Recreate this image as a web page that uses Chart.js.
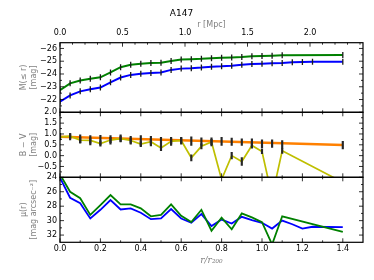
<!DOCTYPE html>
<html>
<head>
<meta charset="utf-8">
<script src="https://cdn.jsdelivr.net/npm/chart.js@4"></script>
<style>
  body { margin: 0; background: #fff; }
  #wrap { position: relative; width: 374px; height: 280px; }
  #wrap canvas { position: absolute; left: 0; top: 0; }
</style>
</head>
<body>
<div id="wrap">
  <canvas id="panel-mag" width="374" height="280"></canvas>
  <canvas id="panel-colour" width="374" height="280"></canvas>
  <canvas id="panel-mu" width="374" height="280"></canvas>
</div>
<script>
// radii in units of r200
const rGreen = [0, 0.05, 0.1, 0.15, 0.2, 0.25, 0.3, 0.35, 0.4, 0.45, 0.5, 0.55, 0.6, 0.65, 0.7, 0.75, 0.8, 0.85, 0.9, 0.95, 1.0, 1.05, 1.1, 1.4];
const rBlue = [0, 0.05, 0.1, 0.15, 0.2, 0.25, 0.3, 0.35, 0.4, 0.45, 0.5, 0.55, 0.6, 0.65, 0.7, 0.75, 0.8, 0.85, 0.9, 0.95, 1.0, 1.05, 1.1, 1.15, 1.2, 1.25, 1.4];
const rFit = [0, 1.4];

// M(<= r)
const magGreen = [-22.73, -23.27, -23.49, -23.62, -23.74, -24.12, -24.53, -24.73, -24.81, -24.86, -24.88, -25.02, -25.13, -25.16, -25.19, -25.24, -25.27, -25.30, -25.33, -25.38, -25.40, -25.43, -25.46, -25.48];
const magBlue = [-21.84, -22.32, -22.64, -22.81, -22.94, -23.35, -23.72, -23.93, -24.01, -24.07, -24.12, -24.32, -24.42, -24.45, -24.50, -24.57, -24.60, -24.65, -24.73, -24.78, -24.81, -24.84, -24.86, -24.91, -24.94, -24.96, -24.96];

// B - V
const bvData = [0.86, 0.90, 0.72, 0.70, 0.56, 0.72, 0.78, 0.70, 0.53, 0.64, 0.35, 0.66, 0.70, -0.10, 0.43, 0.63, -1.1, 0.0, -0.27, 0.47, 0.19, -1.9, 0.22, -1.23];
const bvErr = [0.12, 0.12, 0.12, 0.12, 0.12, 0.12, 0.12, 0.12, 0.12, 0.12, 0.12, 0.12, 0.12, 0.14, 0.12, 0.12, 0.12, 0.15, 0.18, 0.12, 0.10, 0.12, 0.12, 0.12];
const bvFit = [0.87, 0.49];
const bvSeqHi = [1.03, 1.02, 0.96, 0.92, 0.94, 0.92, 0.96, 0.89, 0.92, 0.89, 0.84, 0.84, 0.84, 0.87, 0.82, 0.82, 0.84, 0.81, 0.78, 0.78, 0.73, 0.73, 0.69, 0.66];
const bvSeqLo = [0.72, 0.73, 0.58, 0.50, 0.50, 0.53, 0.63, 0.53, 0.45, 0.45, 0.45, 0.47, 0.53, 0.47, 0.47, 0.45, 0.47, 0.47, 0.47, 0.40, 0.35, 0.38, 0.35, 0.31];

// mu(r)
const muGreen = [23.6, 26.0, 26.9, 29.2, 27.85, 26.46, 27.75, 27.75, 28.3, 29.4, 29.2, 27.75, 29.33, 30.2, 28.5, 31.4, 29.6, 31.2, 29.0, 29.55, 30.2, 33.3, 29.4, 31.55];
const muBlue = [24.05, 26.83, 27.6, 29.7, 28.5, 27.15, 28.45, 28.3, 28.9, 29.8, 29.7, 28.4, 29.7, 30.3, 29.1, 30.76, 29.85, 30.4, 29.47, 29.93, 30.3, 31.1, 30.0, 30.5, 31.1, 30.85, 30.9];

// ticks
const xTicks = [0, 0.2, 0.4, 0.6, 0.8, 1.0, 1.2, 1.4];
const xMinor = [0.1, 0.3, 0.5, 0.7, 0.9, 1.1, 1.3];
const mpcTicks = [0, 0.5, 1.0, 1.5, 2.0];
const mpcMinor = [0.1, 0.2, 0.3, 0.4, 0.6, 0.7, 0.8, 0.9, 1.1, 1.2, 1.3, 1.4, 1.6, 1.7, 1.8, 1.9, 2.1, 2.2, 2.3, 2.4];
const magTicks = [-26, -25, -24, -23, -22];
const magMinor = [-25.5, -24.5, -23.5, -22.5, -21.5];
const bvTicks = [2.0, 1.5, 1.0, 0.5, 0.0, -0.5];
const bvMinor = [1.75, 1.25, 0.75, 0.25, -0.25, -0.75];
const muTicks = [24, 26, 28, 30, 32];
const muMinor = [25, 27, 29, 31];

Chart.defaults.font.family = 'DejaVu Sans';
Chart.defaults.font.size = 8;
Chart.defaults.color = '#000';

const GREEN = '#008000', BLUE = '#0000ff', YELLOW = '#bfbf00', ORANGE = '#ff8000', GREY = '#808080';

const pts = (xs, ys) => xs.map((x, i) => ({x: x, y: ys[i]}));
const num = (v, d) => (v < 0 ? '\u2212' : '') + Math.abs(v).toFixed(d);

// inward ticks + frame round each panel
const frameTicks = {
    id: 'frameTicks',
    afterDatasetsDraw(chart, args, opts) {
        const ctx = chart.ctx, a = chart.chartArea;
        const edge = (spec, horiz, pos, dir) => {
            const s = chart.scales[spec.scale];
            [[spec.major, 4], [spec.minor, 2]].forEach(([vals, len]) => {
                vals.forEach(v => {
                    const p = s.getPixelForValue(v);
                    ctx.beginPath();
                    if (horiz) { ctx.moveTo(p, pos); ctx.lineTo(p, pos + dir * len); }
                    else { ctx.moveTo(pos, p); ctx.lineTo(pos + dir * len, p); }
                    ctx.stroke();
                });
            });
        };
        ctx.save();
        ctx.strokeStyle = '#000';
        ctx.lineWidth = 0.8;
        edge(opts.top, true, a.top, 1);
        edge(opts.bottom, true, a.bottom, -1);
        edge(opts.side, false, a.left, 1);
        edge(opts.side, false, a.right, -1);
        ctx.lineWidth = 1.2;
        ctx.strokeRect(a.left, a.top, a.right - a.left, a.bottom - a.top);
        ctx.restore();
    }
};

function xScale(show) {
    return {
        type: 'linear', min: 0, max: 1.5, display: show, offset: false,
        afterBuildTicks: s => { s.ticks = xTicks.map(v => ({value: v})); },
        afterFit: s => { if (show) s.height = 37.7; },
        grid: {display: false, drawTicks: false},
        border: {display: false},
        ticks: {padding: 2, maxRotation: 0, autoSkip: false, callback: v => num(v, 1)},
        title: {display: show, text: 'r/r\u2082\u2080\u2080', color: GREY,
            font: {family: 'DejaVu Serif', style: 'italic', size: 9}, padding: {top: 0, bottom: 14}}
    };
}

function yScale(min, max, reverse, ticks, digits, title) {
    return {
        type: 'linear', min: min, max: max, reverse: reverse,
        afterBuildTicks: s => { s.ticks = ticks.map(v => ({value: v})); },
        afterFit: s => { s.width = 60; },
        grid: {display: false, drawTicks: false},
        border: {display: false},
        ticks: {padding: 3, autoSkip: false, callback: v => num(v, digits)},
        title: {display: true, text: title, color: GREY, font: {size: 8, lineHeight: 1.25}, padding: {top: 19, bottom: 0}}
    };
}

function baseOptions(pad, scales, frame, title) {
    return {
        responsive: false,
        animation: false,
        layout: {padding: pad},
        scales: scales,
        plugins: {
            legend: {display: false},
            tooltip: {enabled: false},
            title: title || {display: false},
            frameTicks: frame
        }
    };
}

const sideX = {scale: 'x', major: xTicks, minor: xMinor};

new Chart(document.getElementById('panel-mag').getContext('2d'), {
    type: 'line',
    data: {
        datasets: [{
            data: pts(rGreen, magGreen),
            borderColor: GREEN, borderWidth: 2,
            pointStyle: 'line', rotation: 90, pointRadius: 3,
            pointBorderColor: '#1a1a1a', pointBorderWidth: 1.3
        }, {
            data: pts(rBlue, magBlue),
            borderColor: BLUE, borderWidth: 2,
            pointStyle: 'line', rotation: 90, pointRadius: 3,
            pointBorderColor: '#1a1a1a', pointBorderWidth: 1.3
        }]
    },
    options: baseOptions({top: 0, right: 11, bottom: 167.7, left: 0}, {
        x: xScale(false),
        xTop: {
            type: 'linear', position: 'top', min: 0, max: 2.424,
            afterBuildTicks: s => { s.ticks = mpcTicks.map(v => ({value: v})); },
            afterFit: s => { s.height = 23.9; },
            grid: {display: false, drawTicks: false},
            border: {display: false},
            ticks: {padding: 5, maxRotation: 0, autoSkip: false, callback: v => num(v, 1)},
            title: {display: true, text: 'r [Mpc]', color: GREY, font: {size: 8}, padding: {top: 1, bottom: 0}}
        },
        y: yScale(-26.45, -21, true, magTicks, 0, ['M(\u2264 r)', '[mag]'])
    }, {
        top: {scale: 'xTop', major: mpcTicks, minor: mpcMinor},
        bottom: sideX,
        side: {scale: 'y', major: magTicks, minor: magMinor}
    }, {display: true, text: 'A147', color: '#000', font: {size: 9, weight: 'normal'}, padding: {top: 8, bottom: 0}}),
    plugins: [frameTicks]
});

new Chart(document.getElementById('panel-colour').getContext('2d'), {
    type: 'line',
    data: {
        datasets: [{
            type: 'bar',
            data: rGreen.map((x, i) => ({x: x, y: [bvSeqLo[i], bvSeqHi[i]]})),
            backgroundColor: '#262626', barThickness: 1.5, grouped: false, order: 0
        }, {
            type: 'bar',
            data: rGreen.map((x, i) => ({x: x, y: [bvData[i] - bvErr[i], bvData[i] + bvErr[i]]})),
            backgroundColor: '#262626', barThickness: 1.5, grouped: false, order: 0
        }, {
            data: pts(rFit, bvFit),
            borderColor: ORANGE, borderWidth: 2.5, pointRadius: 0, order: 2
        }, {
            data: pts(rGreen, bvData),
            borderColor: YELLOW, borderWidth: 1.7, pointRadius: 0, order: 1
        }]
    },
    options: baseOptions({top: 112.3, right: 11, bottom: 102.7, left: 0}, {
        x: xScale(false),
        y: yScale(-1, 2, false, bvTicks, 1, ['B \u2212 V', '[mag]'])
    }, {
        top: sideX, bottom: sideX,
        side: {scale: 'y', major: bvTicks, minor: bvMinor}
    }),
    plugins: [frameTicks]
});

new Chart(document.getElementById('panel-mu').getContext('2d'), {
    type: 'line',
    data: {
        datasets: [{
            data: pts(rGreen, muGreen),
            borderColor: GREEN, borderWidth: 1.8, pointRadius: 0
        }, {
            data: pts(rBlue, muBlue),
            borderColor: BLUE, borderWidth: 1.8, pointRadius: 0
        }]
    },
    options: baseOptions({top: 177.3, right: 11, bottom: 0, left: 0}, {
        x: xScale(true),
        y: yScale(24, 33, true, muTicks, 0, ['\u03bc(r)', '[mag arcsec\u207b\u00b2]'])
    }, {
        top: sideX, bottom: sideX,
        side: {scale: 'y', major: muTicks, minor: muMinor}
    }),
    plugins: [frameTicks]
});
</script>
</body>
</html>
